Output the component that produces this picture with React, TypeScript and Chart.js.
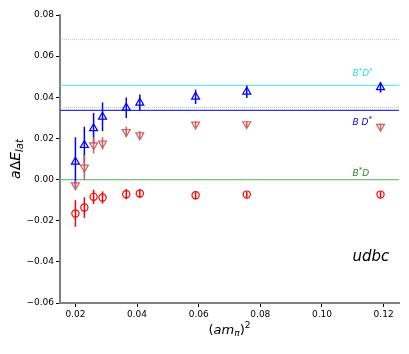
import React, { useEffect, useRef } from 'react';
import { Chart, registerables } from 'chart.js';
Chart.register(...registerables);

// ---- data ----
const xValues = [0.02, 0.0229, 0.0259, 0.0288, 0.0365, 0.0409, 0.059, 0.0756, 0.119];
const upVals = [0.0086, 0.0167, 0.0249, 0.0305, 0.0349, 0.0373, 0.0402, 0.0427, 0.0448];
const upErr = [0.012, 0.009, 0.0075, 0.007, 0.005, 0.004, 0.0035, 0.003, 0.0025];
const downVals = [-0.0027, 0.0059, 0.0167, 0.0176, 0.0232, 0.0216, 0.0268, 0.027, 0.0257];
const downErr = [0.002, 0.006, 0.004, 0.003, 0.0025, 0.002, 0.0015, 0.0015, 0.0015];
const circVals = [-0.0165, -0.0136, -0.0084, -0.0087, -0.0071, -0.0068, -0.0076, -0.0073, -0.0073];
const circErr = [0.0065, 0.005, 0.0035, 0.003, 0.0025, 0.002, 0.002, 0.0015, 0.0015];

const topDotted = 0.0682;
const bStarDStar = 0.0458;
const greenDotted = 0.0351;
const bDStar = 0.0336;
const bStarD = 0.0;

const xTicks = [0.02, 0.04, 0.06, 0.08, 0.1, 0.12];
const yTicks = [-0.06, -0.04, -0.02, 0.0, 0.02, 0.04, 0.06, 0.08];
const xMin = 0.015;
const xMax = 0.125;
const yMin = -0.06;
const yMax = 0.08;

const labelX = 0.1099;
const labelBStarDStarY = 0.0513;
const labelBDStarY = 0.0279;
const labelBStarDY = 0.0031;
const udbcY = -0.0378;

const FONT = '"DejaVu Sans", sans-serif';

type Seg = { t: string; italic?: boolean; size: number; dy?: number };

function drawRich(ctx: CanvasRenderingContext2D, segs: Seg[], x: number, y: number, align: 'left' | 'center', color: string) {
  ctx.save();
  ctx.fillStyle = color;
  ctx.textBaseline = 'middle';
  ctx.textAlign = 'left';
  let total = 0;
  const widths = segs.map((s) => {
    ctx.font = `${s.italic ? 'italic ' : ''}${s.size}px ${FONT}`;
    const w = ctx.measureText(s.t).width;
    total += w;
    return w;
  });
  let cx = align === 'center' ? x - total / 2 : x;
  segs.forEach((s, i) => {
    ctx.font = `${s.italic ? 'italic ' : ''}${s.size}px ${FONT}`;
    ctx.fillText(s.t, cx, y + (s.dy || 0));
    cx += widths[i];
  });
  ctx.restore();
}

const lineDs = (y: number, color: string, dash: number[], width: number) => ({
  type: 'line' as const,
  data: [
    { x: xMin, y },
    { x: xMax, y },
  ],
  borderColor: color,
  borderWidth: width,
  borderDash: dash,
  pointRadius: 0,
  showLine: true,
  fill: false,
});

const errorBarPlugin = {
  id: 'errorBars',
  afterDatasetsDraw(chart: any) {
    const xs = chart.scales.x;
    const ys = chart.scales.y;
    const ctx = chart.ctx as CanvasRenderingContext2D;
    const groups: [number[], number[], string][] = [
      [upVals, upErr, '#0000ff'],
      [downVals, downErr, '#cd5c5c'],
      [circVals, circErr, '#ff0000'],
    ];
    ctx.save();
    ctx.lineWidth = 1.5;
    groups.forEach(([vals, errs, color]) => {
      ctx.strokeStyle = color;
      vals.forEach((v, i) => {
        const px = xs.getPixelForValue(xValues[i]);
        ctx.beginPath();
        ctx.moveTo(px, ys.getPixelForValue(v - errs[i]));
        ctx.lineTo(px, ys.getPixelForValue(v + errs[i]));
        ctx.stroke();
      });
    });
    ctx.restore();
  },
};

const textPlugin = {
  id: 'texts',
  afterDraw(chart: any) {
    const xs = chart.scales.x;
    const ys = chart.scales.y;
    const ctx = chart.ctx as CanvasRenderingContext2D;
    const lx = xs.getPixelForValue(labelX);
    drawRich(ctx, [
      { t: 'B', italic: true, size: 9 },
      { t: '*', size: 7, dy: -3 },
      { t: 'D', italic: true, size: 9 },
      { t: '*', size: 7, dy: -3 },
    ], lx, ys.getPixelForValue(labelBStarDStarY), 'left', '#22dddd');
    drawRich(ctx, [
      { t: 'B ', italic: true, size: 9 },
      { t: 'D', italic: true, size: 9 },
      { t: '*', size: 7, dy: -3 },
    ], lx, ys.getPixelForValue(labelBDStarY), 'left', '#0000ff');
    drawRich(ctx, [
      { t: 'B', italic: true, size: 9 },
      { t: '*', size: 7, dy: -3 },
      { t: 'D', italic: true, size: 9 },
    ], lx, ys.getPixelForValue(labelBStarDY), 'left', '#228b22');
    drawRich(ctx, [{ t: 'udbc', italic: true, size: 15 }], lx, ys.getPixelForValue(udbcY), 'left', '#000000');

    // x axis title
    const area = chart.chartArea;
    drawRich(ctx, [
      { t: '(', size: 13 },
      { t: 'am', italic: true, size: 13 },
      { t: 'π', italic: true, size: 9, dy: 3 },
      { t: ')', size: 13 },
      { t: '2', size: 9, dy: -5 },
    ], (area.left + area.right) / 2, 331, 'center', '#000000');

    // y axis title (rotated)
    ctx.save();
    ctx.translate(16, (area.top + area.bottom) / 2);
    ctx.rotate(-Math.PI / 2);
    drawRich(ctx, [
      { t: 'a', italic: true, size: 14 },
      { t: 'Δ', size: 14 },
      { t: 'E', italic: true, size: 14 },
      { t: 'lat', italic: true, size: 10, dy: 4 },
    ], 0, 0, 'center', '#000000');
    ctx.restore();
  },
};

export default function App() {
  const ref = useRef<HTMLCanvasElement | null>(null);
  useEffect(() => {
    if (!ref.current) return;
    const chart = new Chart(ref.current, {
      type: 'scatter',
      data: {
        datasets: [
          {
            data: xValues.map((x, i) => ({ x, y: upVals[i] })),
            pointStyle: 'triangle',
            pointRadius: 4.6,
            borderColor: '#0000ff',
            backgroundColor: 'rgba(0,0,0,0)',
            borderWidth: 1.2,
          } as any,
          {
            data: xValues.map((x, i) => ({ x, y: downVals[i] })),
            pointStyle: 'triangle',
            rotation: 180,
            pointRadius: 4.6,
            borderColor: '#d06060',
            backgroundColor: 'rgba(0,0,0,0)',
            borderWidth: 1.2,
          } as any,
          {
            data: xValues.map((x, i) => ({ x, y: circVals[i] })),
            pointStyle: 'circle',
            pointRadius: 3.6,
            borderColor: '#ff0000',
            backgroundColor: 'rgba(0,0,0,0)',
            borderWidth: 1.2,
          } as any,
          lineDs(topDotted, 'rgba(120,120,255,0.55)', [1, 1], 1),
          lineDs(bStarDStar, '#55e6e6', [], 1),
          lineDs(greenDotted, 'rgba(140,190,140,0.7)', [1, 1], 1),
          lineDs(bDStar, '#3333ff', [], 1.2),
          lineDs(bStarD, '#77c077', [], 1.2),
        ],
      },
      options: {
        animation: false,
        responsive: false,
        devicePixelRatio: 1,
        layout: { padding: { top: 15, right: 10, left: 0, bottom: 0 } },
        plugins: { legend: { display: false }, tooltip: { enabled: false } },
        scales: {
          x: {
            type: 'linear',
            min: xMin,
            max: xMax,
            afterBuildTicks: (s: any) => {
              s.ticks = xTicks.map((v) => ({ value: v }));
            },
            afterFit: (s: any) => {
              s.height = 51;
            },
            grid: { drawOnChartArea: false, drawTicks: true, tickLength: 4, color: '#000000', tickWidth: 1 },
            border: { display: true, color: '#808080', width: 2 },
            ticks: {
              color: '#000000',
              font: { family: FONT, size: 9 },
              padding: 2,
              maxRotation: 0,
              autoSkip: false,
              callback: (v: any) => Number(v).toFixed(2),
            },
          },
          y: {
            type: 'linear',
            min: yMin,
            max: yMax,
            afterBuildTicks: (s: any) => {
              s.ticks = yTicks.map((v) => ({ value: v }));
            },
            afterFit: (s: any) => {
              s.width = 60;
            },
            grid: { drawOnChartArea: false, drawTicks: true, tickLength: 4, color: '#000000', tickWidth: 1 },
            border: { display: true, color: '#808080', width: 2 },
            ticks: {
              color: '#000000',
              font: { family: FONT, size: 9 },
              padding: 2,
              autoSkip: false,
              callback: (v: any) => {
                const n = Number(v);
                const s = Math.abs(n).toFixed(2);
                return n < -1e-9 ? '\u2212' + s : s;
              },
            },
          },
        },
      },
      plugins: [errorBarPlugin, textPlugin],
    } as any);
    return () => chart.destroy();
  }, []);
  return (
    <div style={{ position: 'fixed', left: 0, top: 0, width: 409, height: 354, background: '#fff' }}>
      <canvas ref={ref} width={409} height={354} style={{ width: 409, height: 354 }} />
    </div>
  );
}
